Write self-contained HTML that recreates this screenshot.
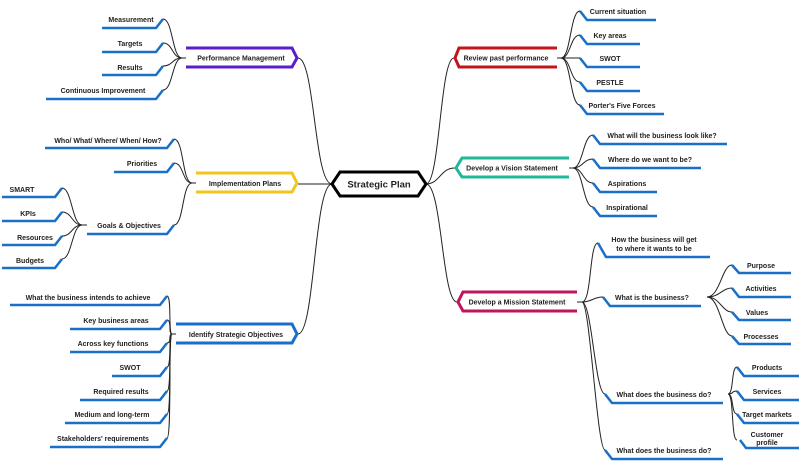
<!DOCTYPE html>
<html><head><meta charset="utf-8"><style>
html,body{margin:0;padding:0;background:#fff;}
svg{display:block;}
text{font-family:"Liberation Sans",Arial,sans-serif;font-weight:bold;font-size:7px;fill:#222;text-anchor:middle;}
.c{fill:none;stroke:#222;stroke-width:1;}
.l{fill:none;stroke:#1a6fc8;stroke-width:2.5;stroke-linejoin:round;}
</style></head><body>
<svg width="800" height="461" viewBox="0 0 800 461" xmlns="http://www.w3.org/2000/svg">
<path class="c" d="M332 184 C314 184 315 58 298 58"/>
<path class="c" d="M332 184 L298 184"/>
<path class="c" d="M332 184 C314 184 315 334 298 334"/>
<path class="c" d="M426 184 C440 184 440 58 454 58"/>
<path class="c" d="M426 184 C440 184 440 168 455 168"/>
<path class="c" d="M426 184 C442 184 442 302 457 302"/>

<polygon points="332,184 340,172 418,172 426,184 418,196 340,196" fill="#fff" stroke="#000" stroke-width="3"/>
<text x="379" y="187.5" style="font-size:9.5px">Strategic Plan</text>

<path d="M186 48 H292 L297 58 L292 67 H186" fill="none" stroke="#5b1ec8" stroke-width="3"/>
<text x="241" y="60.5">Performance Management</text>
<path d="M196 173 H292 L297 183 L292 192 H196" fill="none" stroke="#f2c51d" stroke-width="3"/>
<text x="245" y="186">Implementation Plans</text>
<path d="M176 324 H292 L297 334 L292 343 H176" fill="none" stroke="#1a6fc8" stroke-width="3"/>
<text x="236" y="337">Identify Strategic Objectives</text>
<path d="M557 48 H459 L455 58 L459 67 H557" fill="none" stroke="#c2141b" stroke-width="3"/>
<text x="506" y="60.5">Review past performance</text>
<path d="M569 158 H462 L456 168 L462 177 H569" fill="none" stroke="#1fb89a" stroke-width="3"/>
<text x="512" y="170.5">Develop a Vision Statement</text>
<path d="M577 292 H463 L458 302 L463 311 H577" fill="none" stroke="#c0145f" stroke-width="3"/>
<text x="517" y="304.5">Develop a Mission Statement</text>

<path class="c" d="M182 58 H186"/>
<path class="c" d="M163 19 C173 19 172 58 182 58"/>
<path class="c" d="M163 43 C173 43 172 58 182 58"/>
<path class="c" d="M163 66 C173 66 172 58 182 58"/>
<path class="c" d="M163 90 C173 90 172 58 182 58"/>
<path class="l" d="M102 28 H156 L163 19"/><text x="131" y="22">Measurement</text>
<path class="l" d="M102 52 H156 L163 43"/><text x="130" y="46">Targets</text>
<path class="l" d="M102 75 H156 L163 66"/><text x="130" y="70">Results</text>
<path class="l" d="M46 99 H156 L163 90"/><text x="103" y="93">Continuous Improvement</text>

<path class="c" d="M192 183 H196"/>
<path class="c" d="M174 139 C184 139 182 183 192 183"/>
<path class="c" d="M174 163 C184 163 182 183 192 183"/>
<path class="c" d="M174 225 C184 225 182 183 192 183"/>
<path class="l" d="M45 148 H167 L174 139"/><text x="108" y="143">Who/ What/ Where/ When/ How?</text>
<path class="l" d="M114 172 H167 L174 163"/><text x="142" y="166">Priorities</text>
<path class="l" d="M87 234 H167 L174 225"/><text x="129" y="228">Goals &amp; Objectives</text>
<path class="c" d="M62 188 C72 188 72 225 82 225"/>
<path class="c" d="M62 212 C72 212 72 225 82 225"/>
<path class="c" d="M62 236 C72 236 72 225 82 225"/>
<path class="c" d="M62 259 C72 259 72 225 82 225"/>
<path class="c" d="M82 225 H87"/>
<path class="l" d="M2 197 H55 L62 188"/><text x="22" y="192">SMART</text>
<path class="l" d="M2 221 H55 L62 212"/><text x="28" y="216">KPIs</text>
<path class="l" d="M2 245 H55 L62 236"/><text x="35" y="240">Resources</text>
<path class="l" d="M2 268 H55 L62 259"/><text x="30" y="263">Budgets</text>

<path class="c" d="M172 334 H176"/>
<path class="c" d="M167 296 C172 296 168 334 172 334"/>
<path class="c" d="M167 320 C172 320 168 334 172 334"/>
<path class="c" d="M167 343 C172 343 168 334 172 334"/>
<path class="c" d="M167 367 C172 367 168 334 172 334"/>
<path class="c" d="M167 391 C172 391 168 334 172 334"/>
<path class="c" d="M167 414 C172 414 168 334 172 334"/>
<path class="c" d="M167 438 C172 438 168 334 172 334"/>
<path class="l" d="M10 305 H160 L167 296"/><text x="88" y="300">What the business intends to achieve</text>
<path class="l" d="M70 329 H160 L167 320"/><text x="116" y="323">Key business areas</text>
<path class="l" d="M70 352 H160 L167 343"/><text x="113" y="346">Across key functions</text>
<path class="l" d="M112 376 H160 L167 367"/><text x="130" y="370">SWOT</text>
<path class="l" d="M80 400 H160 L167 391"/><text x="121" y="394">Required results</text>
<path class="l" d="M65 423 H160 L167 414"/><text x="112" y="417">Medium and long-term</text>
<path class="l" d="M50 447 H160 L167 438"/><text x="103" y="441">Stakeholders' requirements</text>

<path class="c" d="M557 58 H561"/>
<path class="c" d="M561 58 C571 58 570 11 580 11"/>
<path class="c" d="M561 58 C571 58 570 35 580 35"/>
<path class="c" d="M561 58 C571 58 570 58 580 58"/>
<path class="c" d="M561 58 C571 58 570 82 580 82"/>
<path class="c" d="M561 58 C571 58 570 105 580 105"/>
<path class="l" d="M580 11 L587 20 H656"/><text x="618" y="14">Current situation</text>
<path class="l" d="M580 35 L587 44 H640"/><text x="610" y="38">Key areas</text>
<path class="l" d="M580 58 L587 67 H640"/><text x="610" y="61">SWOT</text>
<path class="l" d="M580 82 L587 91 H640"/><text x="610" y="85">PESTLE</text>
<path class="l" d="M580 105 L587 114 H664"/><text x="622" y="108">Porter's Five Forces</text>

<path class="c" d="M569 168 H573"/>
<path class="c" d="M573 168 C583 168 583 135 593 135"/>
<path class="c" d="M573 168 C583 168 583 159 593 159"/>
<path class="c" d="M573 168 C583 168 583 183 593 183"/>
<path class="c" d="M573 168 C583 168 583 207 593 207"/>
<path class="l" d="M593 135 L600 144 H727"/><text x="662" y="138">What will the business look like?</text>
<path class="l" d="M593 159 L600 168 H701"/><text x="650" y="162">Where do we want to be?</text>
<path class="l" d="M593 183 L600 192 H657"/><text x="627" y="186">Aspirations</text>
<path class="l" d="M593 207 L600 216 H657"/><text x="627" y="210">Inspirational</text>

<path class="c" d="M577 302 H582"/>
<path class="c" d="M582 302 C592 302 589 243 598 243"/>
<path class="c" d="M582 302 C592 302 593 297 603 297"/>
<path class="c" d="M582 302 C592 302 595 394 605 394"/>
<path class="c" d="M582 302 C590 302 597 450 605 450"/>
<path class="l" d="M598 243 L606 257 H710"/><text x="654" y="242">How the business will get</text><text x="654" y="251">to where it wants to be</text>
<path class="l" d="M603 297 L610 306 H701"/><text x="652" y="300">What is the business?</text>
<path class="l" d="M605 394 L612 403 H723"/><text x="664" y="397">What does the business do?</text>
<path class="l" d="M605 450 L612 459 H723"/><text x="664" y="453">What does the business do?</text>

<path class="c" d="M707 297 C720 297 722 265 732 265"/>
<path class="c" d="M707 297 C720 297 722 288 732 288"/>
<path class="c" d="M707 297 C720 297 722 312 732 312"/>
<path class="c" d="M707 297 C720 297 722 336 732 336"/>
<path class="l" d="M732 265 L739 273 H791"/><text x="761" y="268">Purpose</text>
<path class="l" d="M732 288 L739 297 H791"/><text x="761" y="291">Activities</text>
<path class="l" d="M732 312 L739 320 H791"/><text x="757" y="315">Values</text>
<path class="l" d="M732 336 L739 344 H791"/><text x="761" y="339">Processes</text>

<path class="c" d="M728 394 C734 394 731 367 737 367"/>
<path class="c" d="M728 394 C734 394 731 391 737 391"/>
<path class="c" d="M728 394 C734 394 731 414 737 414"/>
<path class="c" d="M728 394 C734 394 731 440 737 440"/>
<path class="l" d="M737 367 L744 376 H799"/><text x="767" y="370">Products</text>
<path class="l" d="M737 391 L744 400 H799"/><text x="767" y="394">Services</text>
<path class="l" d="M737 414 L744 423 H799"/><text x="767" y="417">Target markets</text>
<path class="l" d="M740 440 L746 448 H799"/><text x="767" y="437">Customer</text><text x="767" y="445">profile</text>
</svg>
</body></html>
